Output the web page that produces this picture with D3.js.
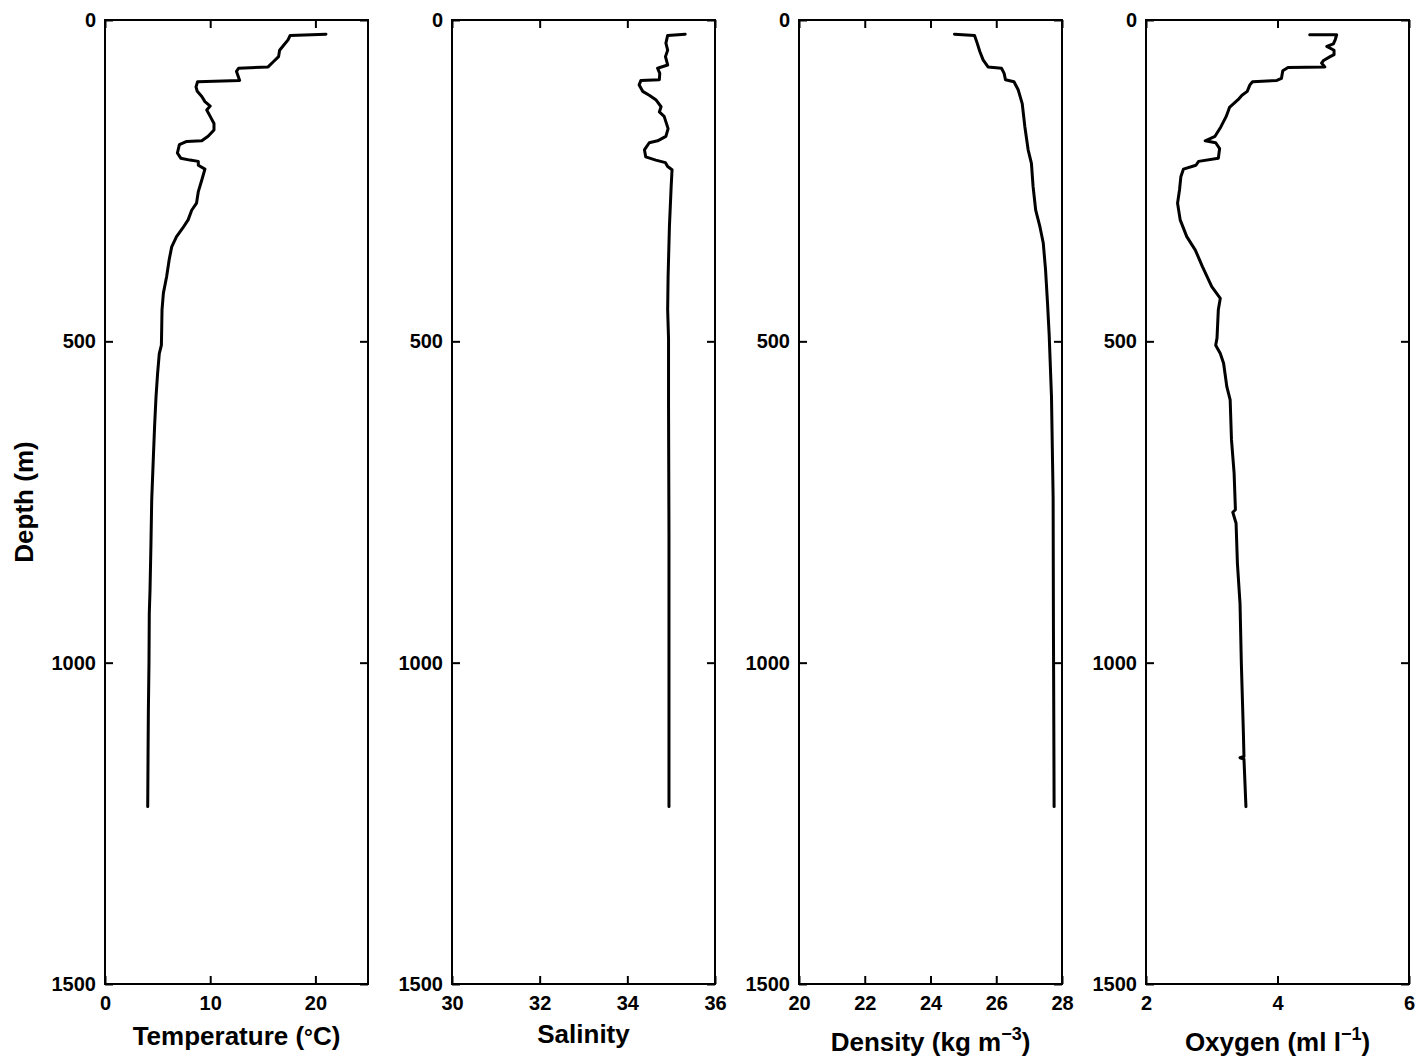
<!DOCTYPE html>
<html>
<head>
<meta charset="utf-8">
<script src="https://cdn.jsdelivr.net/npm/d3@7"></script>
<style>
  body { margin: 0; background: #fff; }
  svg text { font-family: "Liberation Sans", Arial, Helvetica, sans-serif; font-weight: bold; fill: #000; }
  .tick text { font-size: 20px; }
  .label { font-size: 26px; }
</style>
</head>
<body>
<div id="chart"></div>
<script>
////////////////////////////  Data  ////////////////////////////////
// [depth (m), value]
const temperature = [
  [22, 21.0], [24, 17.6], [31, 17.4], [39, 17.0], [47, 16.6], [57, 16.5], [65, 16.0],
  [73, 15.5], [75, 12.7], [80, 12.5], [94, 12.8], [96, 8.8], [104, 8.65], [111, 8.77],
  [119, 9.2], [127, 9.5], [134, 10.0], [140, 9.67], [150, 10.0], [161, 10.36], [171, 10.36],
  [181, 9.8], [188, 9.2], [189, 7.77], [194, 7.07], [207, 6.88], [215, 7.2], [218, 8.08],
  [220, 8.87], [226, 8.87], [232, 9.5], [249, 9.2], [267, 8.87], [285, 8.7], [296, 8.24],
  [311, 7.9], [324, 7.38], [337, 6.8], [353, 6.34], [373, 6.1], [399, 5.86], [425, 5.55],
  [451, 5.42], [480, 5.39], [506, 5.36], [519, 5.16], [550, 5.0], [586, 4.85], [630, 4.72],
  [679, 4.6], [747, 4.44], [814, 4.37], [887, 4.28], [923, 4.21], [1001, 4.18], [1079, 4.12],
  [1150, 4.09], [1224, 4.06]
];

const salinity = [
  [22, 35.32], [24, 34.92], [36, 34.88], [47, 34.92], [57, 34.87], [70, 34.92], [75, 34.69],
  [83, 34.74], [93, 34.73], [94, 34.31], [101, 34.27], [111, 34.35], [117, 34.5], [124, 34.65],
  [135, 34.77], [143, 34.73], [150, 34.84], [169, 34.93], [181, 34.88], [188, 34.69],
  [191, 34.5], [202, 34.39], [213, 34.42], [218, 34.65], [222, 34.87], [228, 34.92],
  [233, 35.02], [259, 35.0], [322, 34.96], [399, 34.93], [451, 34.92], [496, 34.94],
  [600, 34.94], [800, 34.95], [1000, 34.95], [1224, 34.95]
];

const density = [
  [22, 24.73], [24, 25.34], [36, 25.42], [49, 25.5], [62, 25.6], [73, 25.75], [75, 26.16],
  [83, 26.24], [93, 26.28], [96, 26.54], [109, 26.67], [130, 26.79], [166, 26.87],
  [202, 26.97], [223, 27.07], [259, 27.12], [296, 27.2], [322, 27.33], [347, 27.43],
  [389, 27.5], [441, 27.56], [490, 27.61], [586, 27.68], [743, 27.73], [951, 27.74], [1224, 27.76]
];

const oxygen = [
  [23, 4.49], [23, 4.90], [30, 4.88], [37, 4.85], [41, 4.75], [47, 4.86], [54, 4.86],
  [57, 4.80], [63, 4.70], [67, 4.67], [73, 4.72], [74, 4.16], [79, 4.08], [91, 4.06],
  [94, 3.99], [96, 3.62], [101, 3.58], [111, 3.54], [117, 3.46], [124, 3.4], [136, 3.27],
  [150, 3.22], [166, 3.14], [181, 3.05], [188, 2.9], [191, 3.06], [200, 3.12], [215, 3.1],
  [220, 2.8], [226, 2.76], [232, 2.57], [244, 2.53], [264, 2.51], [285, 2.48], [311, 2.52],
  [337, 2.62], [358, 2.75], [384, 2.86], [415, 3.0], [433, 3.13], [451, 3.1], [495, 3.08],
  [506, 3.06], [519, 3.13], [534, 3.18], [571, 3.23], [591, 3.28], [653, 3.30], [705, 3.34],
  [762, 3.36], [766, 3.32], [783, 3.37], [845, 3.39], [908, 3.43], [1001, 3.45], [1105, 3.48],
  [1146, 3.49], [1148, 3.43], [1150, 3.49], [1224, 3.52]
];

const depthDomain = [0, 1500];
const depthTicks = [0, 500, 1000, 1500];

const tempDomain = [0, 25], tempTicks = [0, 10, 20];
const salDomain = [30, 36], salTicks = [30, 32, 34, 36];
const densDomain = [20, 28], densTicks = [20, 22, 24, 26, 28];
const oxyDomain = [2, 6], oxyTicks = [2, 4, 6];

////////////////////////////  Layout  //////////////////////////////
const width = 1423, height = 1062;
const marginTop = 20, ph = 964, pw = 263;
const lefts = [105, 452, 799, 1146];
const fmt = d3.format("d");

const panels = [
  { data: temperature, domain: tempDomain, ticks: tempTicks, label: [["Temperature (", 0], ["°", -1], ["C)", 0]], labelY: 1045 },
  { data: salinity, domain: salDomain, ticks: salTicks, label: [["Salinity", 0]], labelY: 1043 },
  { data: density, domain: densDomain, ticks: densTicks, label: [["Density (kg m", 0], ["−3", 1], [")", 0]], labelY: 1051 },
  { data: oxygen, domain: oxyDomain, ticks: oxyTicks, label: [["Oxygen (ml l", 0], ["−1", 1], [")", 0]], labelY: 1051 }
];

const svg = d3.select("#chart").append("svg")
  .attr("width", width)
  .attr("height", height);

const y = d3.scaleLinear().domain(depthDomain).range([0, ph]);

panels.forEach((p, i) => {
  const x = d3.scaleLinear().domain(p.domain).range([0, pw]);
  const g = svg.append("g").attr("transform", `translate(${lefts[i]},${marginTop})`);

  // axes, ticks pointing inward
  g.append("g")
    .attr("transform", `translate(0,${ph})`)
    .call(d3.axisBottom(x).tickValues(p.ticks).tickFormat(fmt).tickSizeInner(-8).tickSizeOuter(0).tickPadding(12));
  g.append("g")
    .call(d3.axisTop(x).tickValues(p.ticks).tickSizeInner(-8).tickSizeOuter(0).tickFormat(""));
  g.append("g")
    .call(d3.axisLeft(y).tickValues(depthTicks).tickFormat(fmt).tickSizeInner(-8).tickSizeOuter(0).tickPadding(9));
  g.append("g")
    .attr("transform", `translate(${pw},0)`)
    .call(d3.axisRight(y).tickValues(depthTicks).tickSizeInner(-8).tickSizeOuter(0).tickFormat(""));

  g.selectAll(".domain").remove();
  g.selectAll(".tick line").attr("stroke", "#000").attr("stroke-width", 2);

  // frame
  g.append("rect")
    .attr("width", pw)
    .attr("height", ph)
    .attr("fill", "none")
    .attr("stroke", "#000")
    .attr("stroke-width", 2);

  // profile
  const line = d3.line()
    .x((d) => x(d[1]))
    .y((d) => y(d[0]));

  g.append("path")
    .datum(p.data)
    .attr("d", line)
    .attr("fill", "none")
    .attr("stroke", "#000")
    .attr("stroke-width", 3)
    .attr("stroke-linejoin", "round")
    .attr("stroke-linecap", "round");

  // x label (with superscripts)
  const t = svg.append("text")
    .attr("class", "label")
    .attr("x", lefts[i] + pw / 2)
    .attr("y", p.labelY)
    .attr("text-anchor", "middle");

  let shift = 0;
  p.label.forEach(([s, sup]) => {
    const dy = sup === 1 ? -11 : 0;
    const ts = t.append("tspan").text(s).attr("dy", dy - shift);
    if (sup === 1) ts.style("font-size", "18px");
    if (sup === -1) ts.style("font-size", "22px");
    shift = dy;
  });
});

// y label
svg.append("text")
  .attr("class", "label")
  .attr("text-anchor", "middle")
  .attr("transform", `translate(33,${marginTop + ph / 2}) rotate(-90)`)
  .text("Depth (m)");
</script>
</body>
</html>
